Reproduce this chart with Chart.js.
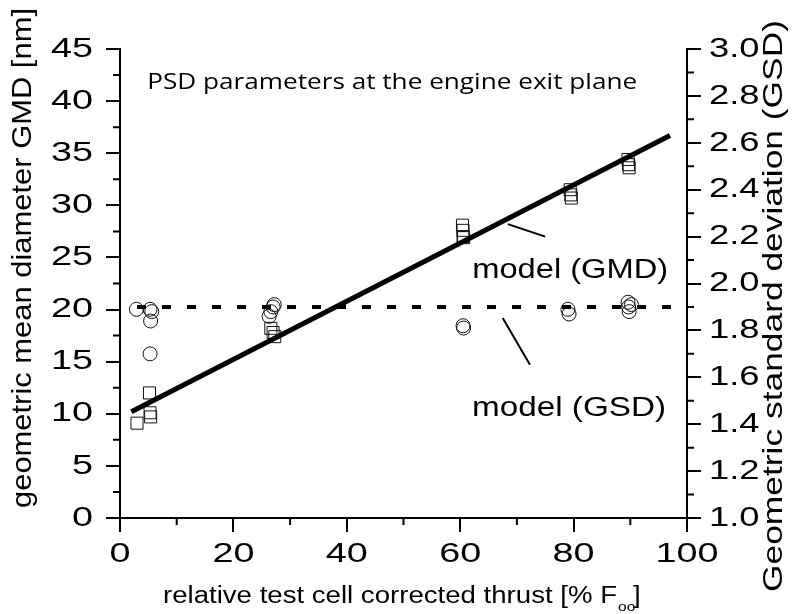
<!DOCTYPE html>
<html>
<head>
<meta charset="utf-8">
<script src="https://cdn.jsdelivr.net/npm/chart.js@4.4.1/dist/chart.umd.min.js"></script>
<style>
  html, body { margin: 0; padding: 0; background: #fff; }
  #wrap { width: 796px; height: 614px; }
</style>
</head>
<body>
<div id="wrap"><canvas id="chart" width="796" height="614"></canvas></div>
<script>
// measured GMD values (squares, left axis)
const gmdX = [3.0, 5.2, 5.3, 5.4, 26.6, 27.0, 27.3, 60.4, 60.5, 60.5, 60.6, 79.4, 79.5, 79.6, 89.6, 89.7, 89.8];
const gmdY = [9.1, 12.0, 10.1, 9.7, 18.2, 17.8, 17.4, 28.1, 27.6, 27.0, 26.9, 31.5, 31.0, 30.7, 34.4, 33.9, 33.6];

// measured GSD values (circles, right axis)
const gsdX = [2.9, 5.3, 5.6, 5.4, 5.3, 27.2, 27.0, 26.6, 26.3, 60.5, 60.6, 79.0, 79.2, 89.6, 89.7, 89.8, 90.2];
const gsdY = [1.89, 1.89, 1.88, 1.84, 1.70, 1.91, 1.90, 1.88, 1.86, 1.82, 1.81, 1.89, 1.87, 1.92, 1.90, 1.88, 1.91];

// model lines
const modelGmdX = [2, 97];
const modelGmdY = [10.2, 36.7];
const modelGsdX = [3, 98];
const modelGsdY = [1.9, 1.9];

// axis ticks
const xTicks = [0, 20, 40, 60, 80, 100];
const yTicks = [0, 5, 10, 15, 20, 25, 30, 35, 40, 45];
const y2Ticks = [1.0, 1.2, 1.4, 1.6, 1.8, 2.0, 2.2, 2.4, 2.6, 2.8, 3.0];

const toPts = (xs, ys) => xs.map((x, i) => ({ x: x, y: ys[i] }));

function drawText(ctx, str, x, y, font, align, sx, rot) {
  ctx.save();
  ctx.translate(x, y);
  if (rot) ctx.rotate(rot);
  ctx.scale(sx || 1, 1);
  ctx.font = font;
  ctx.textAlign = align || 'center';
  ctx.textBaseline = 'middle';
  ctx.fillStyle = '#000';
  ctx.fillText(str, 0, 0);
  ctx.restore();
}

function fitText(ctx, str, x, y, font, width, rot) {
  ctx.save();
  ctx.font = font;
  const sx = width / ctx.measureText(str).width;
  ctx.restore();
  drawText(ctx, str, x, y, font, 'center', sx, rot);
}

const decor = {
  id: 'decor',
  afterDraw(chart) {
    const ctx = chart.ctx;
    const xs = chart.scales.x, ys = chart.scales.y, y2 = chart.scales.y2;
    const a = chart.chartArea;
    const tickFont = '28px "Liberation Sans", Arial, sans-serif';

    // minor ticks
    ctx.save();
    ctx.strokeStyle = '#000';
    ctx.lineWidth = 2;
    ctx.beginPath();
    for (let v = 10; v < 100; v += 20) {
      const px = xs.getPixelForValue(v);
      ctx.moveTo(px, a.bottom); ctx.lineTo(px, a.bottom + 7);
    }
    for (let v = 2.5; v < 45; v += 5) {
      const py = ys.getPixelForValue(v);
      ctx.moveTo(a.left, py); ctx.lineTo(a.left - 7, py);
    }
    for (let v = 1.1; v < 3; v += 0.2) {
      const py = y2.getPixelForValue(v);
      ctx.moveTo(a.right, py); ctx.lineTo(a.right + 7, py);
    }
    ctx.stroke();

    // leader lines for the model labels
    ctx.beginPath();
    ctx.moveTo(xs.getPixelForValue(68.4), ys.getPixelForValue(28.2));
    ctx.lineTo(xs.getPixelForValue(75.0), ys.getPixelForValue(27.0));
    ctx.moveTo(xs.getPixelForValue(67.5), ys.getPixelForValue(19.2));
    ctx.lineTo(xs.getPixelForValue(72.3), ys.getPixelForValue(14.7));
    ctx.stroke();
    ctx.restore();

    // tick labels
    xTicks.forEach(v => drawText(ctx, String(v), xs.getPixelForValue(v), a.bottom + 36, tickFont, 'center', 1.35));
    yTicks.forEach(v => drawText(ctx, String(v), a.left - 27, ys.getPixelForValue(v), tickFont, 'right', 1.35));
    y2Ticks.forEach(v => drawText(ctx, v.toFixed(1), a.right + 22, y2.getPixelForValue(v), tickFont, 'left', 1.3));

    // axis titles
    fitText(ctx, 'geometric mean diameter GMD [nm]', 23, 258, '28px "Liberation Sans", Arial, sans-serif', 500, -Math.PI / 2);
    fitText(ctx, 'Geometric standard deviation (GSD)', 774, 306, '28px "Liberation Sans", Arial, sans-serif', 572, -Math.PI / 2);

    const xt = 'relative test cell corrected thrust [% F';
    const xf = '23px "Liberation Sans", Arial, sans-serif';
    ctx.save();
    ctx.font = xf;
    const sx = 454 / ctx.measureText(xt).width;
    ctx.restore();
    drawText(ctx, xt, 163, 597, xf, 'left', sx);
    drawText(ctx, 'oo', 618, 607, '13px "Liberation Sans", Arial, sans-serif', 'left', 1.2);
    drawText(ctx, ']', 633, 597, xf, 'left', sx);

    // annotations
    fitText(ctx, 'PSD parameters at the engine exit plane', xs.getPixelForValue(48), ys.getPixelForValue(41.8), '22px "Open Sans", "Noto Sans", sans-serif', 490);
    fitText(ctx, 'model (GMD)', xs.getPixelForValue(79.4), ys.getPixelForValue(23.7), '27px "Liberation Sans", Arial, sans-serif', 196);
    fitText(ctx, 'model (GSD)', xs.getPixelForValue(79.2), ys.getPixelForValue(10.5), '27px "Liberation Sans", Arial, sans-serif', 194);
  }
};

const axisGrid = { display: true, drawOnChartArea: false, drawTicks: true, tickLength: 14, lineWidth: 2, color: '#000' };
const axisBorder = { display: true, width: 2, color: '#000' };

new Chart(document.getElementById('chart'), {
  type: 'scatter',
  data: {
    datasets: [
      {
        label: 'model GMD', type: 'line', data: toPts(modelGmdX, modelGmdY), yAxisID: 'y',
        borderColor: '#000', borderWidth: 5, pointRadius: 0, fill: false, order: 0
      },
      {
        label: 'model GSD', type: 'line', data: toPts(modelGsdX, modelGsdY), yAxisID: 'y2',
        borderColor: '#000', borderWidth: 4, borderDash: [9, 16], pointRadius: 0, fill: false, order: 0
      },
      {
        label: 'GMD', data: toPts(gmdX, gmdY), yAxisID: 'y', pointStyle: 'rect', pointRadius: 8.5,
        borderColor: '#111', borderWidth: 1, backgroundColor: 'rgba(0,0,0,0)', order: 1
      },
      {
        label: 'GSD', data: toPts(gsdX, gsdY), yAxisID: 'y2', pointStyle: 'circle', pointRadius: 7,
        borderColor: '#111', borderWidth: 1, backgroundColor: 'rgba(0,0,0,0)', order: 1
      }
    ]
  },
  options: {
    responsive: false,
    animation: false,
    layout: { padding: { top: 49, left: 0, right: 0, bottom: 0 } },
    plugins: { legend: { display: false }, tooltip: { enabled: false } },
    scales: {
      x: {
        type: 'linear', min: 0, max: 100,
        ticks: { stepSize: 20, display: false },
        grid: axisGrid, border: axisBorder,
        afterFit: s => { s.height = 96; }
      },
      y: {
        position: 'left', min: 0, max: 45,
        ticks: { stepSize: 5, display: false },
        grid: axisGrid, border: axisBorder,
        afterFit: s => { s.width = 120; }
      },
      y2: {
        position: 'right', min: 1, max: 3,
        ticks: { stepSize: 0.2, display: false },
        grid: axisGrid, border: axisBorder,
        afterFit: s => { s.width = 109; }
      }
    }
  },
  plugins: [decor]
});
</script>
</body>
</html>
